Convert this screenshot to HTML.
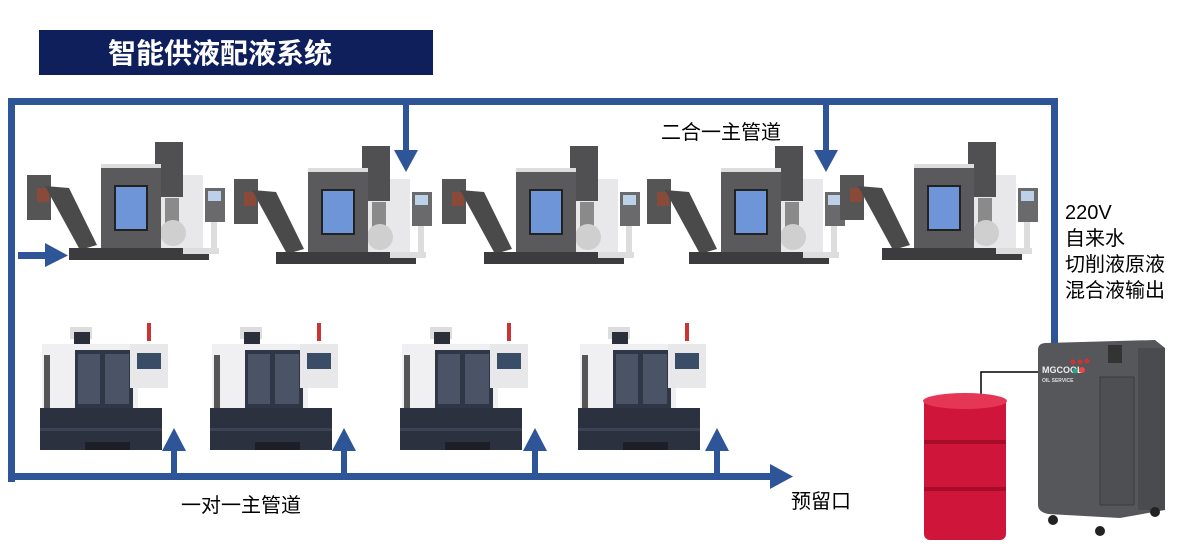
<!DOCTYPE html>
<html><head><meta charset="utf-8"><style>
body{margin:0;width:1200px;height:558px;background:#fff;overflow:hidden;font-family:"Liberation Sans","Noto Sans CJK SC",sans-serif;}
</style></head><body>
<svg width="1200" height="558" viewBox="0 0 1200 558" xmlns="http://www.w3.org/2000/svg" style="position:absolute;left:0;top:0">
<defs>
<symbol id="vmc" viewBox="0 0 200 130" overflow="visible">
  <rect x="2" y="45" width="24" height="45" fill="#555"/>
  <rect x="12" y="58" width="12" height="14" fill="#8a4a3a"/>
  <polygon points="20,56 44,58 72,115 55,120" fill="#4a4a4a"/>
  <rect x="136" y="45" width="42" height="85" fill="#e8e8ea"/>
  <rect x="130" y="12" width="28" height="55" fill="#505052"/>
  <rect x="140" y="68" width="14" height="35" fill="#8a8a8a"/>
  <circle cx="148" cy="103" r="13" fill="#cfcfcf"/>
  <rect x="76" y="36" width="60" height="94" fill="#5a5a5c"/>
  <rect x="76" y="34" width="60" height="4" fill="#ddd"/>
  <rect x="90" y="56" width="32" height="44" fill="#6f95d9" stroke="#222" stroke-width="2"/>
  <rect x="44" y="118" width="140" height="12" fill="#3c3c3e"/>
  <rect x="158" y="118" width="36" height="6" fill="#ddd"/>
  <rect x="186" y="90" width="6" height="32" fill="#ddd"/>
  <rect x="180" y="58" width="20" height="34" fill="#6a6a6c"/>
  <rect x="183" y="61" width="13" height="10" fill="#bcd0e8"/>
</symbol>
<symbol id="vmc2" viewBox="0 0 125 130" overflow="visible">
  <rect x="40" y="7" width="22" height="12" fill="#ddd"/>
  <rect x="44" y="12" width="16" height="16" fill="#2a2f3a"/>
  <rect x="117" y="3" width="4" height="18" fill="#c33"/>
  <rect x="12" y="24" width="96" height="70" fill="#f0f0f2"/>
  <rect x="14" y="35" width="6" height="55" fill="#555"/>
  <rect x="45" y="30" width="58" height="58" fill="#2f3747"/>
  <rect x="48" y="34" width="22" height="50" fill="#4a5466"/>
  <rect x="75" y="34" width="24" height="50" fill="#4a5466"/>
  <rect x="100" y="24" width="38" height="44" fill="#e8e8ea"/>
  <rect x="107" y="33" width="24" height="16" fill="#3a4d66"/>
  <rect x="10" y="88" width="122" height="42" fill="#2c3140"/>
  <rect x="10" y="108" width="122" height="3" fill="#3d4354"/>
  <rect x="55" y="122" width="45" height="8" fill="#1c1f28"/>
</symbol>
</defs>

<rect x="39" y="30" width="394" height="45" fill="#0f1f5c"/>
<text x="220" y="63" font-size="28" font-weight="bold" fill="#fff" text-anchor="middle" font-family="Liberation Sans, Noto Sans CJK SC, sans-serif">智能供液配液系统</text>

<use href="#vmc" x="25" y="130" width="200" height="130"/>
<use href="#vmc" x="232" y="134" width="200" height="130"/>
<use href="#vmc" x="440" y="134" width="200" height="130"/>
<use href="#vmc" x="645" y="134" width="200" height="130"/>
<use href="#vmc" x="838" y="130" width="200" height="130"/>

<use href="#vmc2" x="30" y="320" width="125" height="130"/>
<use href="#vmc2" x="200" y="320" width="125" height="130"/>
<use href="#vmc2" x="390" y="320" width="125" height="130"/>
<use href="#vmc2" x="568" y="320" width="125" height="130"/>

<g fill="#2e5597">
<rect x="8" y="98" width="1050" height="7"/>
<rect x="8" y="98" width="7" height="384"/>
<rect x="1051" y="98" width="7" height="247"/>
<rect x="8" y="473" width="772" height="7"/>
<polygon points="770,464 793,476.5 770,489"/>
<rect x="403" y="104" width="6" height="48"/>
<polygon points="394,150 418,150 406,172"/>
<rect x="823" y="104" width="6" height="48"/>
<polygon points="814,150 838,150 826,172"/>
<rect x="18" y="252" width="30" height="7"/>
<polygon points="45,243 68,255.5 45,267"/>
<rect x="171" y="448" width="6" height="27"/>
<polygon points="162,451 186,451 174,428"/>
<rect x="341" y="448" width="6" height="27"/>
<polygon points="332,451 356,451 344,428"/>
<rect x="532" y="448" width="6" height="27"/>
<polygon points="523,451 547,451 535,428"/>
<rect x="714" y="448" width="6" height="27"/>
<polygon points="705,451 729,451 717,428"/>
</g>

<g font-size="20" fill="#000" font-family="Liberation Sans, Noto Sans CJK SC, sans-serif">
<text x="661" y="139">二合一主管道</text>
<text x="181" y="512">一对一主管道</text>
<text x="791" y="508">预留口</text>
<text x="1065" y="219">220V</text>
<text x="1065" y="245">自来水</text>
<text x="1065" y="271">切削液原液</text>
<text x="1065" y="297">混合液输出</text>
</g>

<polyline points="981,397 981,372 1038,372" fill="none" stroke="#000" stroke-width="1.5"/>
<rect x="924" y="398" width="82" height="142" rx="6" fill="#d0153a"/>
<ellipse cx="965" cy="401" rx="42" ry="8" fill="#e63656"/>
<rect x="924" y="440" width="82" height="4" fill="#a50d2a"/>
<rect x="924" y="487" width="82" height="4" fill="#a50d2a"/>
<path d="M1038,350 Q1038,343 1046,343 L1155,340 L1165,348 L1165,510 L1120,518 L1048,514 Q1038,512 1038,505 Z" fill="#56575b"/>
<rect x="1138" y="348" width="27" height="162" fill="#4a4b4f"/>
<rect x="1100" y="377" width="34" height="128" fill="#4e4f53" stroke="#3a3b3e"/>
<rect x="1108" y="345" width="14" height="18" fill="#333"/>
<text x="1042" y="373" font-size="9" font-weight="bold" fill="#eee">MGCOOL</text>
<text x="1042" y="382" font-size="5" font-weight="bold" fill="#ddd">OIL SERVICE</text>
<circle cx="1073" cy="362" r="2.5" fill="#c33"/><circle cx="1080" cy="362" r="2.5" fill="#c33"/><circle cx="1087" cy="361" r="2.5" fill="#c33"/>
<circle cx="1075" cy="371" r="2.5" fill="#2a8"/><circle cx="1082" cy="370" r="3" fill="#e44"/>
<circle cx="1053" cy="520" r="5" fill="#222"/><circle cx="1100" cy="531" r="5" fill="#222"/><circle cx="1155" cy="512" r="5" fill="#222"/>
</svg>
</body></html>
